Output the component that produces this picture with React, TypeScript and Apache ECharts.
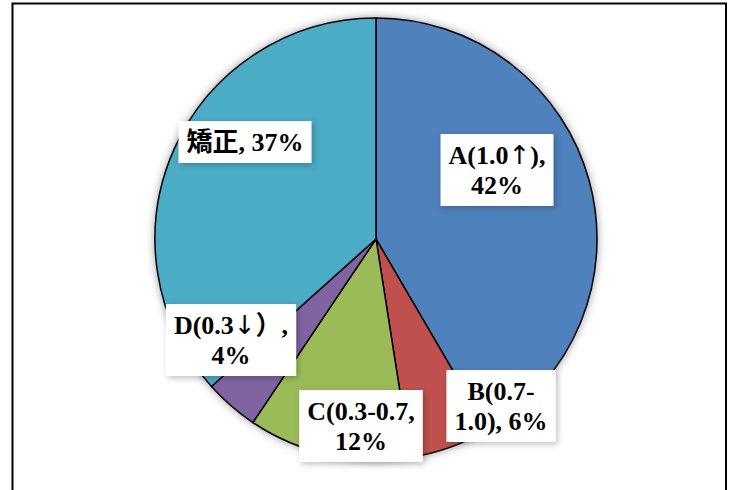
import React, { useEffect, useRef } from "react";
import * as echarts from "echarts";

const categories = ["A(1.0↑)", "B(0.7-1.0)", "C(0.3-0.7", "D(0.3↓）", "矯正"];
const values = [42, 6, 12, 4, 37];
const colors = ["#4F81BD", "#C0504D", "#9BBB59", "#8064A2", "#4BACC6"];
// label box centres (layout only)
const labelCenters = [
  [497, 170],
  [501, 406],
  [361, 426],
  [231, 340],
  [245, 142],
];

function labelText(name: string, value: number, i: number): string {
  let t: string;
  if (i === 1) t = "B(0.7-\n1.0), " + value + "%";
  else if (i === 4) t = name + ", " + value + "%";
  else t = name + ",\n" + value + "%";
  return t
    .split("\n")
    .map((line) => line.replace(/([↑↓])/g, "}{ar|$1}{t|"))
    .map((line) => "{t|" + line + "}")
    .join("\n");
}

export default function App() {
  const ref = useRef<HTMLDivElement>(null);
  useEffect(() => {
    if (!ref.current) return;
    const chart = echarts.init(ref.current, undefined, { renderer: "svg" });
    const font = "'Liberation Serif', 'DejaVu Serif', 'Noto Sans CJK JP', serif";
    chart.setOption({
      animation: false,
      backgroundColor: "#fff",
      graphic: [
        {
          type: "rect",
          shape: { x: 12.5, y: 3.5, width: 713.5, height: 520 },
          style: { fill: "none", stroke: "#000", lineWidth: 2 },
          z: 100,
        },
      ],
      series: [
        {
          type: "pie",
          silent: true,
          center: [376, 239],
          radius: 221,
          z: 1,
          label: { show: false },
          labelLine: { show: false },
          itemStyle: {
            color: "#fff",
            shadowBlur: 10,
            shadowColor: "rgba(0,0,0,0.45)",
          },
          data: [{ value: 1, name: "" }],
        },
        {
          type: "pie",
          center: [376, 239],
          radius: 221,
          startAngle: 90,
          clockwise: true,
          z: 2,
          itemStyle: { borderColor: "#000", borderWidth: 1.5 },
          labelLine: { show: false },
          label: {
            show: true,
            position: "inside",
            formatter: (p: any) => labelText(p.name, p.value, p.dataIndex),
            color: "#000",
            fontFamily: font,
            fontWeight: "bold",
            fontSize: 26,
            lineHeight: 30,
            align: "center",
            backgroundColor: "#fff",
            padding: [6, 8],
            shadowBlur: 6,
            shadowColor: "rgba(0,0,0,0.25)",
            shadowOffsetX: 2,
            shadowOffsetY: 2,
            rich: {
              t: {
                color: "#000",
                fontFamily: font,
                fontWeight: "bold",
                fontSize: 26,
                lineHeight: 30,
              },
              ar: {
                color: "#000",
                fontFamily: "'DejaVu Sans', sans-serif",
                fontWeight: "normal",
                fontSize: 26,
                lineHeight: 30,
              },
            },
          },
          labelLayout: (params: any) => {
            const c = labelCenters[params.dataIndex];
            return { x: c[0], y: c[1], align: "center", verticalAlign: "middle" };
          },
          data: categories.map((name, i) => ({
            name,
            value: values[i],
            itemStyle: { color: colors[i] },
          })),
        },
      ],
    });
    return () => chart.dispose();
  }, []);
  return (
    <div
      ref={ref}
      style={{ position: "fixed", left: 0, top: 0, width: 733, height: 490 }}
    />
  );
}
